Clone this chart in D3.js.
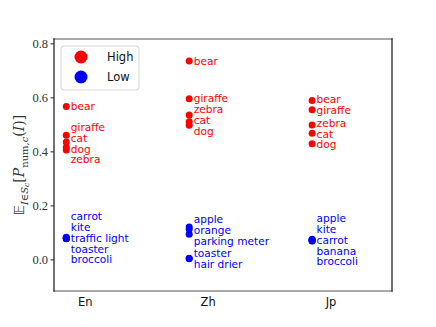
<!DOCTYPE html>
<html>
<head>
<meta charset="utf-8">
<script src="https://cdn.jsdelivr.net/npm/d3@7"></script>
<style>
  body { margin: 0; background: #fff; }
  svg { display: block; }
  .word { font-family: "DejaVu Sans", sans-serif; font-size: 10.6px; }
  .ytick { font-family: "Liberation Serif", serif; font-size: 12.5px; }
  .xtick { font-family: "DejaVu Sans", sans-serif; font-size: 11.5px; }
  .legend-text { font-family: "DejaVu Sans", sans-serif; font-size: 11.5px; }
  .ylabel { font-family: "DejaVu Serif", serif; font-size: 14px; fill: #333; }
</style>
</head>
<body>
<div id="chart"></div>
<script>
// Per-language words with the highest / lowest expected score.

const languages = ["En", "Zh", "Jp"];

const highLabels = [
    ["bear", "giraffe", "cat", "dog", "zebra"],
    ["bear", "giraffe", "zebra", "cat", "dog"],
    ["bear", "giraffe", "zebra", "cat", "dog"],
];
const highValues = [
    [0.566, 0.46, 0.435, 0.415, 0.405],
    [0.735, 0.595, 0.535, 0.51, 0.497],
    [0.588, 0.554, 0.498, 0.467, 0.428],
];

const lowLabels = [
    ["carrot", "kite", "traffic light", "toaster", "broccoli"],
    ["apple", "orange", "parking meter", "toaster", "hair drier"],
    ["apple", "kite", "carrot", "banana", "broccoli"],
];
const lowValues = [
    [0.082, 0.08, 0.078, 0.077, 0.076],
    [0.12, 0.112, 0.093, 0.004, 0.002],
    [0.075, 0.073, 0.071, 0.069, 0.068],
];

const groupNames = ["High", "Low"];
const groupColors = ["#ff0000", "#0000ff"];
const yTicks = [0.0, 0.2, 0.4, 0.6, 0.8];

const WIDTH = 436;
const HEIGHT = 327;
const MARGIN = { top: 39, right: 44, bottom: 36, left: 54 };
const DOT_RADIUS = 3.5;
const POINT_SHIFT = -0.15;
const LABEL_GAP = 10.8;

const svg = d3.select("#chart").append("svg")
    .attr("width", WIDTH)
    .attr("height", HEIGHT);

const x = d3.scaleLinear()
    .domain([-0.25, 2.5])
    .range([MARGIN.left, WIDTH - MARGIN.right]);

const y = d3.scaleLinear()
    .domain([-0.117, 0.816])
    .range([HEIGHT - MARGIN.bottom, MARGIN.top]);

// spines: left/right dark, top/bottom grey
const x0 = MARGIN.left, x1 = WIDTH - MARGIN.right;
const y0 = MARGIN.top, y1 = HEIGHT - MARGIN.bottom;
const spines = [
    { x1: x0, y1: y0, x2: x1, y2: y0, c: "#8c8c8c" },
    { x1: x0, y1: y1, x2: x1, y2: y1, c: "#8c8c8c" },
    { x1: x0, y1: y0, x2: x0, y2: y1, c: "#262626" },
    { x1: x1, y1: y0, x2: x1, y2: y1, c: "#262626" },
];
svg.append("g").selectAll("line")
    .data(spines)
    .join("line")
    .attr("x1", d => d.x1).attr("y1", d => d.y1)
    .attr("x2", d => d.x2).attr("y2", d => d.y2)
    .attr("stroke", d => d.c)
    .attr("stroke-width", 1.3)
    .attr("stroke-linecap", "square");

// y axis
const yAxis = svg.append("g")
    .attr("transform", `translate(${x0},0)`)
    .call(d3.axisLeft(y).tickValues(yTicks).tickFormat(d3.format(".1f")).tickSize(3.5).tickPadding(2.5));
yAxis.select(".domain").remove();
yAxis.selectAll(".tick line").attr("stroke", "#262626").attr("stroke-width", 1);
yAxis.selectAll(".tick text")
    .attr("class", "ytick")
    .attr("fill", "#333")
    .attr("font-family", null)
    .attr("font-size", null);

// x axis labels (no tick marks)
const xAxis = svg.append("g")
    .attr("transform", `translate(0,${y1})`)
    .call(d3.axisBottom(x).tickValues([0, 1, 2]).tickFormat(i => languages[i]).tickSize(0).tickPadding(7));
xAxis.select(".domain").remove();
xAxis.selectAll(".tick text")
    .attr("class", "xtick")
    .attr("fill", "#111")
    .attr("font-family", null)
    .attr("font-size", null);

// y label
const ylab = svg.append("text")
    .attr("class", "ylabel")
    .attr("transform", `translate(24,${(y0 + y1) / 2}) rotate(-90)`)
    .attr("text-anchor", "middle");
ylab.append("tspan").attr("font-family", "DejaVu Sans").text("\u{1D53C}");
ylab.append("tspan").attr("font-size", "10px").attr("dy", 3.5).attr("font-style", "italic").text("I");
ylab.append("tspan").attr("font-size", "10px").text("\u2208");
ylab.append("tspan").attr("font-size", "10px").attr("font-style", "italic").text("S");
ylab.append("tspan").attr("font-size", "7.5px").attr("dy", 1.5).attr("font-style", "italic").text("c");
ylab.append("tspan").attr("dy", -5).text("[");
ylab.append("tspan").attr("font-style", "italic").text("P");
ylab.append("tspan").attr("font-size", "10px").attr("dy", 3.5).text("num,");
ylab.append("tspan").attr("font-size", "10px").attr("font-style", "italic").text("c");
ylab.append("tspan").attr("dy", -3.5).text("(");
ylab.append("tspan").attr("font-style", "italic").text("I");
ylab.append("tspan").text(")]");

// simple 1D label repel within each cluster
function spreadLabels(ys) {
    const pos = ys.slice();
    for (let it = 0; it < 300; it++) {
        let moved = false;
        for (let i = 0; i < pos.length - 1; i++) {
            const gap = pos[i + 1] - pos[i];
            if (gap < LABEL_GAP - 0.01) {
                const push = (LABEL_GAP - gap) / 2;
                pos[i] -= push;
                pos[i + 1] += push;
                moved = true;
            }
        }
        if (!moved) break;
    }
    return pos;
}

const groups = [
    { labels: highLabels, values: highValues, color: groupColors[0] },
    { labels: lowLabels, values: lowValues, color: groupColors[1] },
];

groups.forEach(g => {
    languages.forEach((lang, li) => {
        const items = g.labels[li].map((name, k) => ({ name, value: g.values[li][k] }))
            .sort((a, b) => b.value - a.value);
        const labelY = spreadLabels(items.map(d => y(d.value)));
        items.forEach((d, k) => { d.ly = labelY[k]; });

        const cx = x(li + POINT_SHIFT);
        const layer = svg.append("g");
        layer.selectAll("circle")
            .data(items)
            .join("circle")
            .attr("cx", cx)
            .attr("cy", d => y(d.value))
            .attr("r", DOT_RADIUS)
            .attr("fill", g.color);
        layer.selectAll("text")
            .data(items)
            .join("text")
            .attr("class", "word")
            .attr("x", cx + 4.5)
            .attr("y", d => d.ly)
            .attr("dy", "0.35em")
            .attr("fill", g.color)
            .text(d => d.name);
    });
});

// legend
const legend = svg.append("g");
legend.append("rect")
    .attr("x", 61).attr("y", 46)
    .attr("width", 78).attr("height", 44)
    .attr("rx", 3)
    .attr("fill", "#fff").attr("fill-opacity", 0.8)
    .attr("stroke", "#d6d6d6");
const legendItems = legend.selectAll("g")
    .data(groupNames)
    .join("g")
    .attr("transform", (d, i) => `translate(81,${57 + i * 20})`);
legendItems.append("circle")
    .attr("r", 6.5)
    .attr("fill", (d, i) => groupColors[i]);
legendItems.append("text")
    .attr("class", "legend-text")
    .attr("x", 26)
    .attr("dy", "0.35em")
    .attr("fill", "#111")
    .text(d => d);
</script>
</body>
</html>
